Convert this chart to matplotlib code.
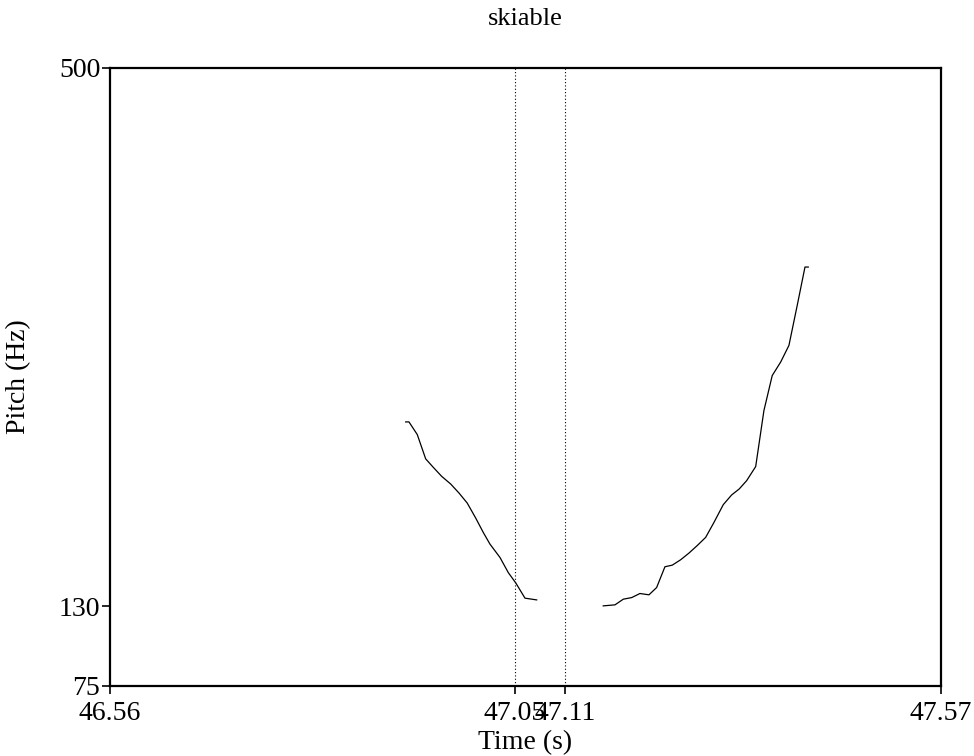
"""Pitch contour of 'skiable' with two boundary markers"""

import matplotlib

matplotlib.use("Agg")
from matplotlib import pyplot as plt

plt.rcParams["font.family"] = ["Liberation Serif", "DejaVu Serif"]

TITLE = "skiable"
X_RANGE = (46.56, 47.57)
Y_RANGE = (75, 500)
MARKERS = [47.052, 47.113]
MARKER_LABELS = ["47.05", "47.11"]
Y_TICKS = [75, 130, 500]

# first voiced stretch (before the boundaries)
seg1_time = [46.9194, 46.9234, 46.9335, 46.9437, 46.9529, 46.9631, 46.9741,
             46.9842, 46.9942, 47.0045, 47.0137, 47.0218, 47.0340, 47.0441,
             47.0534, 47.0644, 47.0786]
seg1_pitch = [256.6, 256.6, 247.9, 231.2, 225.4, 219.2, 213.9, 207.7, 200.8,
              190.5, 180.6, 172.6, 163.4, 153.0, 145.7, 135.4, 134.2]

# second voiced stretch (after the boundaries)
seg2_time = [47.1595, 47.1738, 47.1839, 47.1941, 47.2041, 47.2151, 47.2244,
             47.2345, 47.2434, 47.2536, 47.2637, 47.2738, 47.2840, 47.2941,
             47.3054, 47.3156, 47.3248, 47.3338, 47.3448, 47.3548, 47.3649,
             47.3751, 47.3852, 47.3953, 47.4047, 47.4087]
seg2_pitch = [130.1, 130.8, 134.7, 135.8, 138.6, 137.7, 142.7, 157.0, 158.1,
              161.8, 166.4, 171.6, 177.2, 187.5, 199.7, 206.4, 210.5, 216.2,
              225.9, 264.4, 288.5, 297.7, 309.2, 336.8, 363.1, 363.1]


def main():
    fig = plt.figure(figsize=(9.74, 7.56), dpi=100)
    ax = fig.add_axes([0.1129, 0.0926, 0.8532, 0.8175])

    ax.plot(seg1_time, seg1_pitch, color="black", linewidth=0.9)
    ax.plot(seg2_time, seg2_pitch, color="black", linewidth=0.9)
    for m in MARKERS:
        ax.axvline(m, color="black", linewidth=0.8, linestyle=(0, (1, 2)))

    ax.set_xlim(*X_RANGE)
    ax.set_ylim(*Y_RANGE)
    ax.set_xticks([X_RANGE[0]] + MARKERS + [X_RANGE[1]])
    ax.set_xticklabels(["46.56"] + MARKER_LABELS + ["47.57"])
    ax.set_yticks(Y_TICKS)
    ax.set_yticklabels([str(v) for v in Y_TICKS])

    for side in ax.spines.values():
        side.set_linewidth(1.6)
    ax.tick_params(axis="both", direction="out", length=6, width=1.2,
                   labelsize=20)
    ax.tick_params(axis="x", pad=5)
    ax.tick_params(axis="y", pad=1)

    ax.set_title(TITLE, fontsize=19, pad=31)
    ax.set_xlabel("Time (s)", fontsize=20, labelpad=3)
    ax.set_ylabel("Pitch (Hz)", fontsize=20, labelpad=20)

    fig.savefig("out.png", dpi=100)


if __name__ == "__main__":
    main()
